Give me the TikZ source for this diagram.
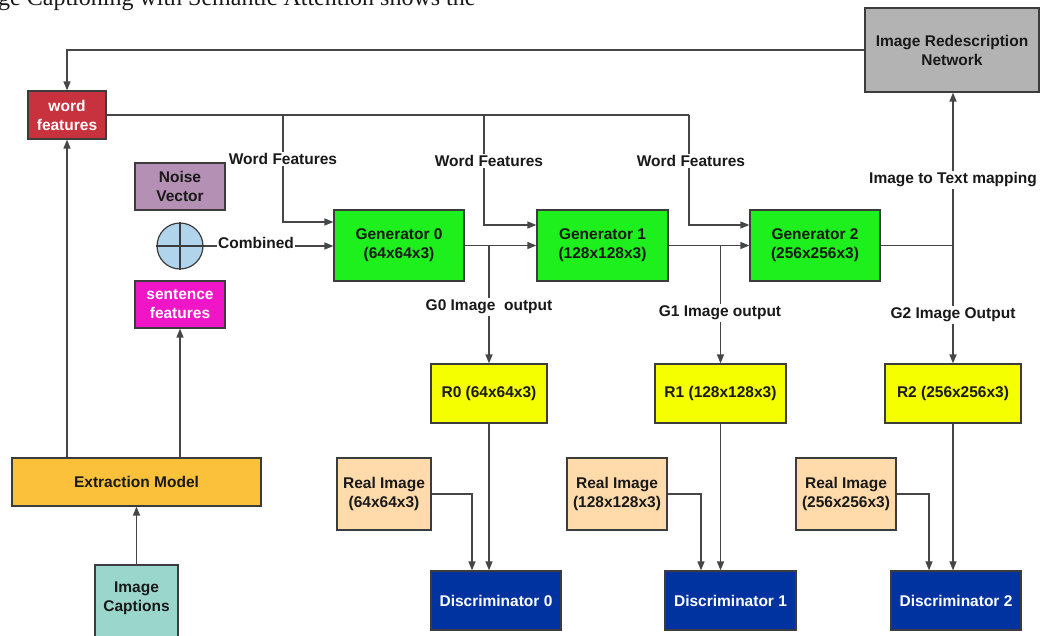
\documentclass[tikz,border=0pt]{standalone}
\usepackage{fontspec}
\setmainfont{Liberation Sans}
\newfontfamily\serifcap{Liberation Serif}
\usetikzlibrary{arrows.meta}
\definecolor{wfred}{RGB}{200,50,62}
\definecolor{irngray}{RGB}{179,179,179}
\definecolor{nvpurple}{RGB}{180,144,180}
\definecolor{circblue}{RGB}{176,212,236}
\definecolor{sfmag}{RGB}{240,22,200}
\definecolor{emorange}{RGB}{251,193,58}
\definecolor{icteal}{RGB}{155,214,204}
\definecolor{gengreen}{RGB}{30,240,30}
\definecolor{ryellow}{RGB}{245,255,0}
\definecolor{rpeach}{RGB}{255,218,170}
\definecolor{dblue}{RGB}{0,51,160}
\definecolor{edge}{RGB}{60,60,60}
\definecolor{linec}{RGB}{70,70,70}
\definecolor{txt}{RGB}{25,25,25}
\begin{document}
\begin{tikzpicture}[x=1pt,y=-1pt,
  box/.style={draw=edge, line width=1.2pt, font=\bfseries\fontsize{15.5}{19}\selectfont, align=center, inner sep=0pt, text=txt},
  conn/.style={draw=linec, line width=1.3pt},
  arr/.style={conn, -{Triangle[length=9pt,width=7pt]}},
  lab/.style={fill=white, font=\bfseries\fontsize{15.5}{19}\selectfont, inner sep=1.5pt, text=txt}
]
\useasboundingbox (0,0) rectangle (1040,635);

\node[anchor=base west, inner sep=0pt, font=\serifcap\fontsize{24}{24}\selectfont, text=txt] (cap) at (-2,5) {ge Captioning with Semantic Attention shows the};

% boxes
\node[box, fill=wfred, text=white, minimum width=78pt, minimum height=48pt] (wf) at (67,115) {word\\features};
\node[box, fill=irngray, minimum width=174pt, minimum height=84pt] (irn) at (952,50) {Image Redescription\\Network};
\node[box, fill=nvpurple, minimum width=90pt, minimum height=47pt] (nv) at (180,186.5) {Noise\\Vector};
\node[circle, draw=edge, fill=circblue, line width=1.2pt, minimum size=46pt, inner sep=0pt] (circ) at (180,246) {};
\draw[draw=edge, line width=1.2pt] (circ.north) -- (circ.south) (circ.west) -- (circ.east);
\node[box, fill=sfmag, text=white, minimum width=90pt, minimum height=47pt] (sf) at (180,304.5) {sentence\\features};
\node[box, fill=emorange, minimum width=249pt, minimum height=48pt] (em) at (136.5,482) {Extraction Model};
\node[box, fill=icteal, minimum width=83pt, minimum height=80pt] (ic) at (136.5,605) {};
\node[font=\bfseries\fontsize{15.5}{19}\selectfont, align=center, text=txt, inner sep=0pt] (ict) at (136.5,598) {Image\\Captions};

\node[box, fill=gengreen, minimum width=130pt, minimum height=71pt] (g0) at (399,245.5) {Generator 0\\(64x64x3)};
\node[box, fill=gengreen, minimum width=131pt, minimum height=71pt] (g1) at (602.5,245.5) {Generator 1\\(128x128x3)};
\node[box, fill=gengreen, minimum width=130pt, minimum height=71pt] (g2) at (815,245.5) {Generator 2\\(256x256x3)};

\node[box, fill=ryellow, minimum width=116pt, minimum height=59pt] (r0) at (489,393.5) {R0 (64x64x3)};
\node[box, fill=ryellow, minimum width=131pt, minimum height=59pt] (r1) at (720.5,393.5) {R1 (128x128x3)};
\node[box, fill=ryellow, minimum width=136pt, minimum height=59pt] (r2) at (953,393.5) {R2 (256x256x3)};

\node[box, fill=rpeach, minimum width=94pt, minimum height=72pt] (ri0) at (384,494) {Real Image\\(64x64x3)};
\node[box, fill=rpeach, minimum width=100pt, minimum height=72pt] (ri1) at (617,494) {Real Image\\(128x128x3)};
\node[box, fill=rpeach, minimum width=100pt, minimum height=72pt] (ri2) at (846,494) {Real Image\\(256x256x3)};

\node[box, fill=dblue, text=white, minimum width=130pt, minimum height=59pt] (d0) at (496,600.5) {Discriminator 0};
\node[box, fill=dblue, text=white, minimum width=131pt, minimum height=59pt] (d1) at (730.5,600.5) {Discriminator 1};
\node[box, fill=dblue, text=white, minimum width=130pt, minimum height=59pt] (d2) at (956,600.5) {Discriminator 2};

% feedback
\draw[arr] (irn.west) -- (irn.west -| wf.north) -- (wf.north);

% word features distribution
\coordinate (j0) at (283,115);
\coordinate (j1) at (484,115);
\coordinate (j2) at (689,115);
\draw[conn] (wf.east) -- (j2);
\draw[arr] (j0) |- ([yshift=23.5pt]g0.west);
\draw[arr] (j1) |- ([yshift=20.5pt]g1.west);
\draw[arr] (j2) |- ([yshift=20.5pt]g2.west);

% combined
\draw[arr] (circ.east) -- (circ.east -| g0.west);

% generator chain
\coordinate (k0) at (r0.north |- g0.east);
\coordinate (k1) at (r1.north |- g1.east);
\coordinate (k2) at (r2.north |- g2.east);
\draw[arr] (g0.east) -- (g1.west);
\draw[arr] (g1.east) -- (g2.west);
\draw[conn] (g2.east) -- (k2);
\draw[arr] (k0) -- (r0.north);
\draw[arr] (k1) -- (r1.north);
\draw[arr] (k2) -- (r2.north);
\draw[arr] (k2) -- (k2 |- irn.south);

% R to D
\draw[arr] (r0.south) -- (r0.south |- d0.north);
\draw[arr] (r1.south) -- (r1.south |- d1.north);
\draw[arr] (r2.south) -- (r2.south |- d2.north);
\draw[arr] (ri0.east) -| ([xshift=-24pt]d0.north);
\draw[arr] (ri1.east) -| ([xshift=-29.5pt]d1.north);
\draw[arr] (ri2.east) -| ([xshift=-27pt]d2.north);

% extraction
\draw[arr] (em.north -| wf.south) -- (wf.south);
\draw[arr] (em.north -| sf.south) -- (sf.south);
\draw[arr] (ic.north) -- (em.south);

% labels
\node[lab] (l0) at (283,159) {Word Features};
\node[lab] (l1) at (489,161) {Word Features};
\node[lab] (l2) at (691,161) {Word Features};
\node[lab] (lc) at (256,243) {Combined};
\node[lab] (lg0) at (489,307) {G0 Image\ \ output};
\node[lab] (lg1) at (720,313) {G1 Image output};
\node[lab] (lg2) at (953,315) {G2 Image Output};
\node[lab] (lit) at (953,180) {Image to Text mapping};
\end{tikzpicture}
\end{document}
